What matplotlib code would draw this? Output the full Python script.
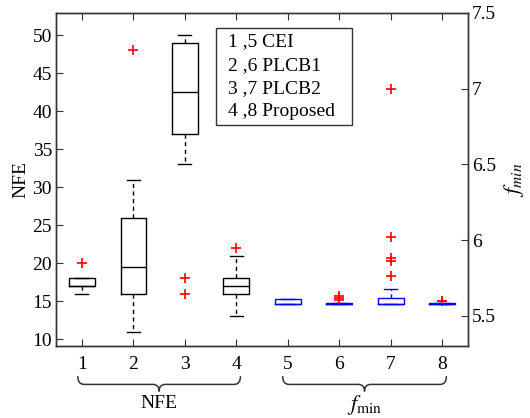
import numpy as np
import matplotlib
matplotlib.use("Agg")
import matplotlib.pyplot as plt
from matplotlib.path import Path
from matplotlib.patches import PathPatch, Rectangle
import matplotlib.transforms as mtransforms

plt.rcParams['font.family'] = ['Liberation Serif', 'DejaVu Serif']
plt.rcParams['mathtext.fontset'] = 'stix'

# ---- data (NFE, left axis) ----
nfe_pos = [1, 2, 3, 4]
nfe_q1 = [17, 16, 37, 16]
nfe_med = [17, 19.5, 42.5, 17]
nfe_q3 = [18, 26, 49, 18]
nfe_wlo = [16, 11, 33, 13]
nfe_whi = [18, 31, 50, 21]
nfe_fliers = [[20], [48], [18, 16], [22]]

# ---- data (f_min, right axis) ----
f_pos = [5, 6, 7, 8]
f_q1 = [5.577, 5.578, 5.576, 5.578]
f_med = [5.578, 5.580, 5.578, 5.580]
f_q3 = [5.614, 5.584, 5.618, 5.584]
f_wlo = [5.577, 5.577, 5.575, 5.577]
f_whi = [5.614, 5.586, 5.676, 5.586]
f_fliers = [[], [5.603, 5.618, 5.634], [5.761, 5.860, 5.884, 6.020, 6.995], [5.595, 5.601]]

legend_lines = ["1 ,5 CEI", "2 ,6 PLCB1", "3 ,7 PLCB2", "4 ,8 Proposed"]
xticks = [1, 2, 3, 4, 5, 6, 7, 8]
left_ticks = [10, 15, 20, 25, 30, 35, 40, 45, 50]
right_ticks = [5.5, 6, 6.5, 7, 7.5]


def stats(q1, med, q3, wlo, whi, fl):
    return [dict(q1=a, med=b, q3=c, whislo=d, whishi=e, fliers=f)
            for a, b, c, d, e, f in zip(q1, med, q3, wlo, whi, fl)]


fig = plt.figure(figsize=(5.30, 4.18), dpi=100)
ax = fig.add_axes([0.106, 0.172, 0.777, 0.797])
ax2 = ax.twinx()

def draw(a, st, pos, color):
    a.bxp(st, positions=pos, widths=0.5, showfliers=True,
          boxprops=dict(color=color, linewidth=1.0),
          medianprops=dict(color=color, linewidth=1.0),
          whiskerprops=dict(color=color, linewidth=1.0, linestyle=(0, (3, 2.5))),
          capprops=dict(color=color, linewidth=1.0),
          capwidths=0.25,
          flierprops=dict(marker='+', markeredgecolor='red', markersize=7,
                          markeredgewidth=1.2, linestyle='none'),
          manage_ticks=False)

draw(ax, stats(nfe_q1, nfe_med, nfe_q3, nfe_wlo, nfe_whi, nfe_fliers), nfe_pos, 'black')
draw(ax2, stats(f_q1, f_med, f_q3, f_wlo, f_whi, f_fliers), f_pos, 'blue')

ax.set_xlim(0.5, 8.5)
ax.set_ylim(9.1, 52.9)
ax2.set_ylim(5.3, 7.5)
ax.set_xticks(xticks)
ax.set_xticklabels([str(v) for v in xticks])
ax.set_yticks(left_ticks)
ax2.set_yticks(right_ticks)
ax2.set_yticklabels(['5.5', '6', '6.5', '7', '7.5'])

for a in (ax, ax2):
    for s in a.spines.values():
        s.set_color('#333333')
        s.set_linewidth(1.0)
ax.tick_params(axis='x', direction='in', top=True, length=5, labelsize=14, pad=7, color='#333333')
ax.tick_params(axis='y', direction='in', length=5, labelsize=14, pad=3, color='#333333')
ax2.tick_params(axis='y', direction='in', length=5, labelsize=14, pad=3, color='#333333')

ax.set_ylabel('NFE', fontsize=14, labelpad=2)
ax2.set_ylabel(r'$f_{min}$', fontsize=16, labelpad=4)

# legend-like text box
ax.add_patch(Rectangle((0.388, 0.664), 0.330, 0.291, transform=ax.transAxes,
                       fill=False, edgecolor='#333333', linewidth=1.0, clip_on=False, zorder=5))
for i, t in enumerate(legend_lines):
    ax.text(0.417, 0.913 - i * 0.070, t, transform=ax.transAxes, fontsize=14,
            va='center', ha='left')

# curly braces under groups
trans = mtransforms.blended_transform_factory(ax.transData, ax.transAxes)

def brace(x0, x1, yt=-0.090, yl=-0.115, yb=-0.136, r=0.12):
    xm = 0.5 * (x0 + x1)
    verts = [(x0, yt), (x0, yl), (x0 + r, yl),
             (xm - r, yl), (xm, yl), (xm, yb),
             (xm, yl), (xm + r, yl),
             (x1 - r, yl), (x1, yl), (x1, yt)]
    codes = [Path.MOVETO, Path.CURVE3, Path.CURVE3,
             Path.LINETO, Path.CURVE3, Path.CURVE3,
             Path.CURVE3, Path.CURVE3,
             Path.LINETO, Path.CURVE3, Path.CURVE3]
    p = PathPatch(Path(verts, codes), transform=trans, fill=False,
                  edgecolor='#333333', linewidth=1.1, clip_on=False)
    ax.add_patch(p)

brace(0.92, 4.08)
brace(4.90, 8.08)
ax.text(2.5, -0.172, 'NFE', transform=trans, ha='center', va='center', fontsize=14)
ax.text(6.5, -0.178, r'$f_{\mathrm{min}}$', transform=trans, ha='center', va='center', fontsize=16)

fig.savefig('out.png', dpi=100)
